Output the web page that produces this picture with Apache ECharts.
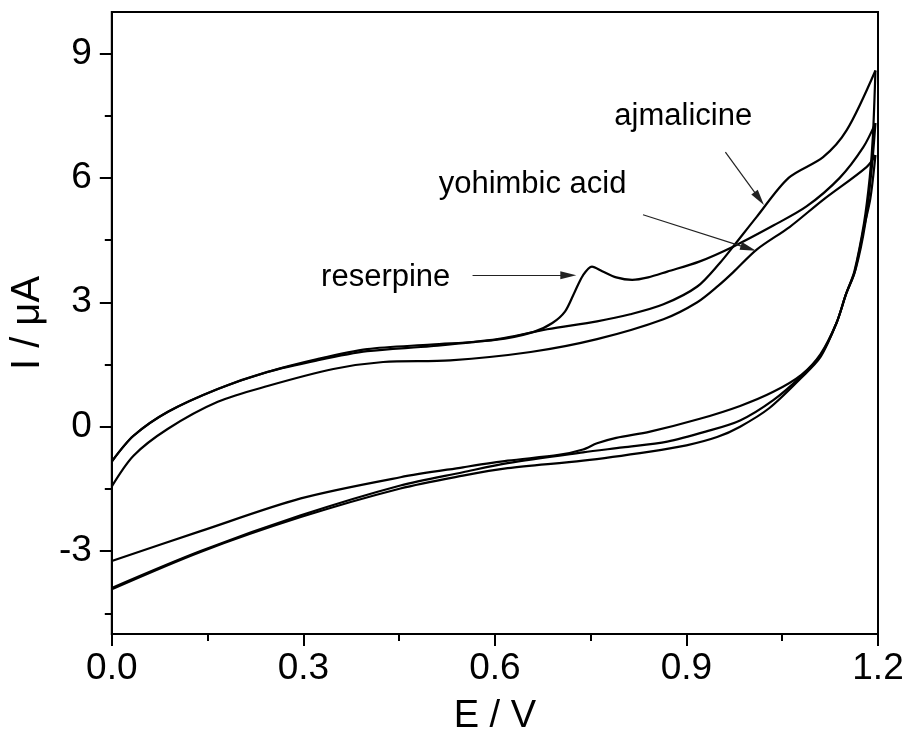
<!DOCTYPE html>
<html>
<head>
<meta charset="utf-8">
<script src="https://cdn.jsdelivr.net/npm/echarts@6/dist/echarts.min.js"></script>
<style>
html,body{margin:0;padding:0;background:#fff;}
#c{width:910px;height:741px;}
</style>
</head>
<body>
<div id="c"></div>
<script>
// ---- data (E / V, I / uA) ----
const reserpineForward = [
  [0.000,-0.84],[0.034,-0.22],[0.088,0.36],[0.166,0.91],[0.244,1.32],[0.322,1.63],
  [0.400,1.87],[0.500,1.98],[0.600,2.09],[0.660,2.28],[0.690,2.50],[0.710,2.78],
  [0.725,3.25],[0.738,3.65],[0.752,3.86],[0.768,3.75],[0.790,3.60],[0.815,3.54],
  [0.840,3.60],[0.870,3.74],[0.920,3.98],[0.973,4.34],[1.036,4.85],[1.088,5.31],
  [1.140,6.00],[1.177,6.74],[1.196,7.32]
];
const reserpineReverse = [
  [1.196,7.32],[1.190,6.20],[1.180,4.90],[1.165,3.80],[1.150,3.20],[1.135,2.50],
  [1.110,1.75],[1.080,1.25],[1.036,0.84],[0.984,0.50],[0.921,0.19],[0.843,-0.12],
  [0.790,-0.27],[0.760,-0.40],[0.738,-0.55],[0.700,-0.68],[0.620,-0.82],[0.550,-0.98],
  [0.452,-1.22],[0.296,-1.73],[0.139,-2.52],[0.000,-3.24]
];
const ajmalicineForward = [
  [0.000,-0.84],[0.034,-0.22],[0.088,0.36],[0.166,0.91],[0.244,1.32],[0.322,1.60],
  [0.400,1.82],[0.500,1.94],[0.604,2.11],[0.682,2.35],[0.760,2.54],[0.812,2.71],
  [0.864,2.95],[0.917,3.38],[0.953,3.96],[0.973,4.34],[1.010,5.06],[1.060,6.00],
  [1.114,6.50],[1.151,7.15],[1.196,8.59]
];
const ajmalicineReverse = [
  [1.196,8.59],[1.192,7.00],[1.187,6.00],[1.178,4.90],[1.163,3.75],[1.150,3.20],
  [1.135,2.50],[1.110,1.72],[1.080,1.22],[1.036,0.64],[0.984,0.15],[0.930,-0.12],
  [0.870,-0.36],[0.800,-0.50],[0.738,-0.62],[0.620,-0.88],[0.550,-1.10],[0.452,-1.42],
  [0.296,-2.14],[0.139,-3.00],[0.000,-3.89]
];
const yohimbicForward = [
  [0.000,-1.44],[0.034,-0.70],[0.088,-0.05],[0.166,0.60],[0.244,0.98],[0.347,1.39],
  [0.425,1.56],[0.530,1.60],[0.656,1.80],[0.760,2.11],[0.864,2.59],[0.917,3.00],
  [0.950,3.40],[0.973,3.72],[1.010,4.27],[1.062,4.82],[1.114,5.47],[1.182,6.26],
  [1.196,6.55]
];
const yohimbicReverse = [
  [1.196,6.55],[1.188,5.50],[1.178,4.80],[1.163,3.70],[1.150,3.20],[1.135,2.50],
  [1.110,1.68],[1.080,1.18],[1.030,0.45],[0.984,0.00],[0.948,-0.25],[0.900,-0.45],
  [0.843,-0.60],[0.738,-0.82],[0.620,-1.00],[0.550,-1.18],[0.452,-1.49],[0.296,-2.18],
  [0.139,-3.02],[0.000,-3.92]
];
const yMajorTicks = [-3, 0, 3, 6, 9];
const yMinorTicks = [-4.5, -1.5, 1.5, 4.5, 7.5];
const labelTexts = ['reserpine', 'yohimbic acid', 'ajmalicine'];
const labelPositions = [[0.429, 3.60], [0.659, 5.83], [0.895, 7.49]];
const arrowLines = [
  [[0.565, 3.65], [0.715, 3.65]],
  [[0.832, 5.11], [0.997, 4.30]],
  [[0.961, 6.62], [1.014, 5.50]]
];

const FONT = 'Arial, "Liberation Sans", sans-serif';
const chart = echarts.init(document.getElementById('c'), null, {renderer: 'canvas'});

function curve(name, data) {
  return {
    name: name, type: 'line', data: data, showSymbol: false, symbol: 'none',
    smooth: 0.3,
    lineStyle: {color: '#000', width: 2.2}, z: 3, silent: true
  };
}

const option = {
  backgroundColor: '#fff',
  animation: false,
  grid: {left: 111, right: 32, top: 12, bottom: 105, show: true, borderColor: '#000', borderWidth: 2, backgroundColor: 'transparent'},
  xAxis: {
    type: 'value', min: 0, max: 1.2, interval: 0.3,
    name: 'E / V', nameLocation: 'middle', nameGap: 64,
    nameTextStyle: {fontFamily: FONT, fontSize: 38, color: '#000'},
    axisLine: {show: true, onZero: false, lineStyle: {color: '#000', width: 2}},
    axisTick: {show: true, inside: false, length: 12, lineStyle: {color: '#000', width: 2}},
    minorTick: {show: true, splitNumber: 2, length: 7, lineStyle: {color: '#000', width: 2}},
    splitLine: {show: false}, minorSplitLine: {show: false},
    axisLabel: {fontFamily: FONT, fontSize: 37, color: '#000', margin: 16,
      formatter: v => Number(v).toFixed(1)}
  },
  yAxis: [{
    type: 'value', min: -5, max: 10, position: 'left',
    name: 'I / \u03bcA', nameLocation: 'middle', nameGap: 58, nameRotate: 90,
    nameTextStyle: {fontFamily: FONT, fontSize: 40, color: '#000'},
    axisLine: {show: true, onZero: false, lineStyle: {color: '#000', width: 2}},
    axisTick: {show: true, inside: false, length: 12, customValues: yMajorTicks, lineStyle: {color: '#000', width: 2}},
    axisLabel: {fontFamily: FONT, fontSize: 37, color: '#000', margin: 20, customValues: yMajorTicks},
    splitLine: {show: false}
  }, {
    type: 'value', min: -5, max: 10, position: 'left',
    axisLine: {show: false},
    axisTick: {show: true, inside: false, length: 7, customValues: yMinorTicks, lineStyle: {color: '#000', width: 2}},
    axisLabel: {show: false, customValues: yMinorTicks},
    splitLine: {show: false}
  }],
  series: [
    curve('reserpine forward', reserpineForward),
    curve('reserpine reverse', reserpineReverse),
    curve('ajmalicine forward', ajmalicineForward),
    curve('ajmalicine reverse', ajmalicineReverse),
    curve('yohimbic acid forward', yohimbicForward),
    curve('yohimbic acid reverse', yohimbicReverse),
    {
      name: 'labels', type: 'scatter', symbolSize: 0, silent: true,
      itemStyle: {opacity: 1},
      data: labelPositions.map((p, i) => ({value: p, name: labelTexts[i]})),
      label: {show: true, position: 'inside', formatter: p => p.name, opacity: 1,
        fontFamily: FONT, fontSize: 31, color: '#000', textBorderWidth: 0},
      markLine: {
        silent: true, symbol: ['none', 'triangle'], symbolSize: [8, 16],
        lineStyle: {color: '#222', width: 1.2, type: 'solid', opacity: 1},
        label: {show: false},
        data: arrowLines.map(a => [{coord: a[0]}, {coord: a[1]}])
      }
    }
  ]
};
chart.setOption(option);
</script>
</body>
</html>
